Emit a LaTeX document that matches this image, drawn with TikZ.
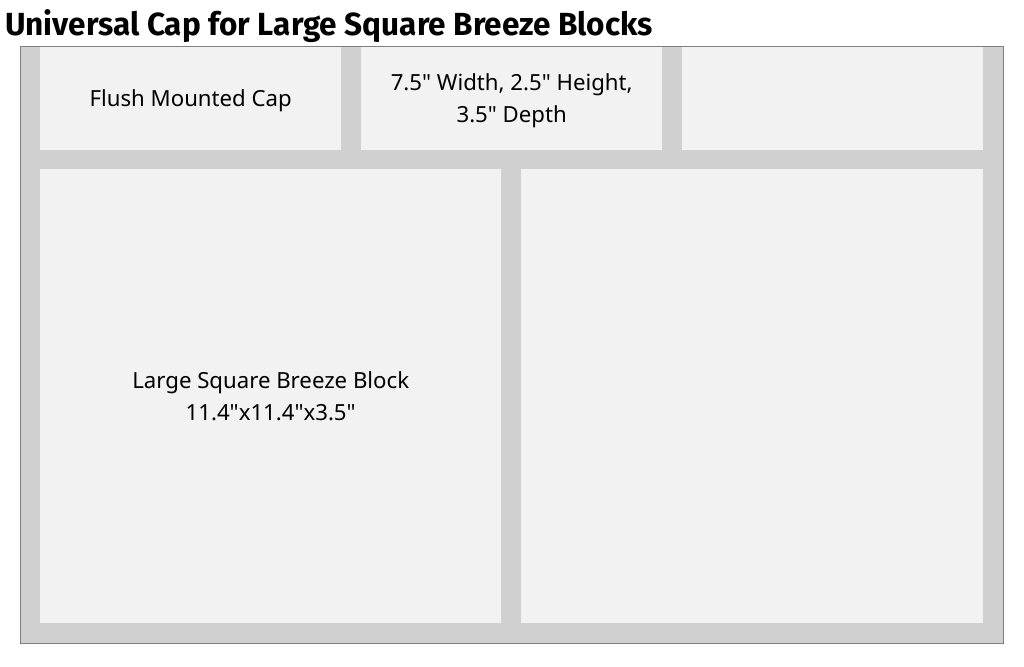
\documentclass[tikz,border=0pt]{standalone}
\usepackage{fontspec}
\newfontfamily\bodyfont{Noto Sans}
\newfontfamily\titlefont{Fira Sans}
\definecolor{framegray}{HTML}{D0D0D0}
\definecolor{cellgray}{HTML}{F2F2F2}
\definecolor{edgegray}{HTML}{7F7F7F}
\begin{document}
\begin{tikzpicture}[x=1pt,y=-1pt,
  cell/.style={fill=cellgray,draw=none,inner sep=0pt,anchor=north west},
  lbl/.style={font=\bodyfont\fontsize{22.2}{32}\selectfont,align=center,text=black}]
\useasboundingbox (0,0) rectangle (1024,666);
\fill[white] (0,0) rectangle (1024,666);
\node[anchor=base west,inner sep=0pt,font=\titlefont\fontsize{32}{36}\selectfont\bfseries] (title) at (5,36)
  {\scalebox{0.985}[1]{Universal Cap for Large Square Breeze Blocks}};
\draw[fill=framegray,draw=edgegray,line width=1pt] (20.5,46.5) rectangle (1003,643.5);
\node[cell,minimum width=301pt,minimum height=103pt] (c1) at (40,46.5) {};
\node[cell,minimum width=301pt,minimum height=103pt] (c2) at (361,46.5) {};
\node[cell,minimum width=301pt,minimum height=103pt] (c3) at (682,46.5) {};
\node[cell,minimum width=461pt,minimum height=454pt] (c4) at (40,169) {};
\node[cell,minimum width=462pt,minimum height=454pt] (c5) at (521,169) {};
\node[lbl] (t1) at ([yshift=-3pt]c1.center) {Flush Mounted Cap};
\node[lbl] (t2) at ([yshift=-3pt]c2.center) {7.5" Width, 2.5" Height,\\3.5" Depth};
\node[lbl] (t4) at ([yshift=0pt]c4.center) {Large Square Breeze Block\\11.4"x11.4"x3.5"};
\end{tikzpicture}
\end{document}
